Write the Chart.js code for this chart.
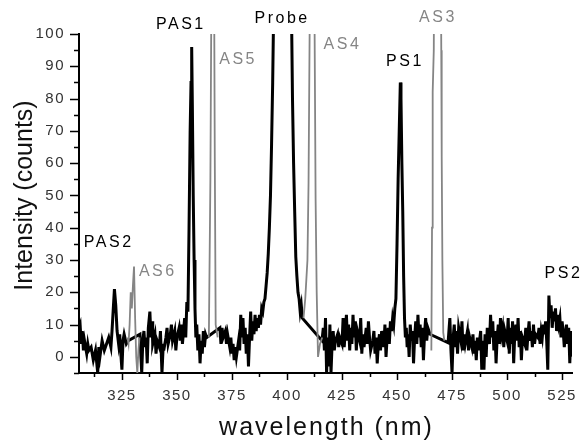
<!DOCTYPE html>
<html>
<head>
<meta charset="utf-8">
<script src="https://cdn.jsdelivr.net/npm/chart.js@4.4.1/dist/chart.umd.min.js"></script>
<style>
html, body { margin: 0; padding: 0; background: #fff; }
#wrap { width: 584px; height: 444px; position: relative; }
</style>
</head>
<body>
<div id="wrap"><canvas id="myChart"></canvas></div>
<script>
// Black spectrum (filtered regions bridged by straight segments)
const blackNm = [
    305.5, 306, 306.5, 307, 307.5, 308, 309, 309.5, 310, 311,
    312, 313, 314, 314.5, 315, 316, 317, 318, 319, 320,
    320.5, 321, 321.6, 322.2, 322.8, 323.5, 324, 324.5, 325, 325.5,
    326, 327, 327.9, 333.2, 333.5, 334, 334.5, 335, 335.5, 336,
    336.5, 337, 337.7, 338.2, 338.7, 339, 340, 340.5, 341, 342,
    342.5, 343.2, 343.8, 344, 345, 345.5, 346, 347, 347.5, 348,
    349, 349.5, 350, 351, 351.5, 352, 352.5, 353, 353.5, 354,
    354.5, 355, 355.5, 356, 356.4, 356.7, 357, 357.4, 357.8, 358.2,
    358.6, 359, 359.5, 360, 360.5, 361, 361.5, 362, 362.5, 363,
    363.5, 369.5, 370, 370.5, 371, 372, 372.5, 373, 374, 374.5,
    375, 375.5, 376, 376.5, 377, 378, 378.5, 379, 379.5, 380,
    380.5, 381, 381.5, 382, 382.5, 383, 383.5, 384, 384.5, 385,
    385.5, 386, 386.5, 387, 387.5, 388, 388.5, 389, 389.5, 390,
    390.5, 391, 391.5, 392, 392.5, 393, 393.5, 394, 396, 400,
    402, 402.5, 403, 403.5, 404, 404.5, 405, 405.5, 406, 406.5,
    407, 415.9, 416.5, 417, 417.5, 418, 418.5, 419, 419.5, 420,
    420.5, 421, 421.5, 422, 423, 423.5, 424, 425, 425.5, 426,
    426.5, 427, 427.5, 428, 428.5, 429, 429.5, 430, 430.5, 431,
    431.5, 432, 433, 433.5, 434, 434.5, 435, 436, 436.5, 437,
    437.5, 438, 439, 439.5, 440, 440.5, 441, 441.5, 442, 442.5,
    443, 444, 444.5, 445, 445.5, 446, 446.5, 447, 447.5, 448,
    448.5, 449, 449.5, 450, 450.5, 451, 451.5, 451.8, 452.2, 452.6,
    453, 453.4, 453.8, 454.2, 454.6, 455, 455.5, 456, 456.5, 457,
    457.5, 458, 458.5, 459, 459.5, 460, 460.5, 461, 461.5, 462,
    462.5, 463, 463.5, 464, 465, 473.2, 474, 474.5, 475, 475.5,
    476, 476.5, 477, 477.5, 478, 479, 479.5, 480, 480.5, 481,
    482, 482.5, 483, 484, 484.5, 485, 485.5, 486, 486.5, 487,
    488, 488.5, 489, 489.5, 490, 490.5, 491, 492, 492.5, 493,
    493.5, 494, 494.5, 495, 495.5, 496, 496.5, 497, 497.5, 498,
    498.5, 499, 500, 500.5, 501, 501.5, 502, 502.5, 503, 503.5,
    504, 504.5, 505, 505.5, 506, 506.5, 507, 508, 508.5, 509,
    509.5, 510, 510.5, 511, 511.5, 512, 512.5, 513, 514, 514.5,
    515, 515.5, 516, 516.5, 517, 517.5, 518, 518.5, 519, 519.5,
    520, 520.5, 521, 521.5, 522, 522.5, 523, 523.5, 524, 524.5,
    525, 525.5, 526, 526.5, 527, 527.5, 528, 528.5, 529, 529.5
];
const blackCounts = [
    9, 10, 4, 8, 2, 5, 1, 4, 2, 3,
    -1, 2, -5, 3, 0, 5, 2, 4, 6, 3,
    8, 14, 21, 16, 8, 4, 7, 1, -4, 5,
    7, 4, 5, 7, 2, -5, 5, 8, 3, 6,
    -2, 9, 14, 6, 11, 4, 7, 1, 5, 3,
    8, -5, 4, 2, 6, 9, 4, 7, 10, 5,
    8, 2, 6, 9, 5, 10, 4, 8, 12, 6,
    17, 14, 40, 70, 85, 96, 78, 50, 30, 15,
    6, 10, 2, 7, -2, 5, 1, 8, 3, 7,
    6, 9, 4, 9, 6, 8, 4, 7, 3, 6,
    1, 4, -1, 3, 0, 5, 2, 13, 6, 12,
    4, 9, 1, 7, -3, 6, 14, 5, 11, 7,
    13, 8, 12, 9, 13, 10, 15, 14, 17, 18,
    22, 26, 32, 40, 50, 66, 85, 110, 160, 160,
    110, 80, 60, 45, 31, 25, 20, 18, 14, 16,
    12, 5, 9, 2, 12, -5, 6, -3, 10, -5,
    4, 8, 2, 5, 7, 3, 6, 4, 12, 3,
    8, 13, 5, 10, 2, 9, 4, 13, 6, 11,
    2, 8, 5, 12, 1, 7, 3, 9, 4, 11,
    6, 2, 5, 8, 1, 6, -2, 4, 7, 2,
    8, 3, 10, 0, 6, 9, 4, 11, 8, 12,
    10, 15, 18, 35, 55, 70, 85, 80, 60, 45,
    25, 12, 6, 9, 3, 7, 0, 10, 5, 8,
    -2, 6, 11, 4, 13, 6, 10, 3, 9, -1,
    7, 12, 5, 9, 7, 4.4, 12, 2, -5, 6,
    10, 3, 8, 1, 9, 5, 11, 2, 7, 4,
    8, 2, 6, 3, 7, 1, 5, -1, 6, 2,
    8, -4, 5, -4, 7, 0, 9, 4, 13, 6,
    11, 2, 8, -2, 6, 10, 4, 12, 7, 9,
    3, 8, 5, 12, 1, 9, 4, 11, -2, 7,
    10, 5, 12, 3, 8, -1, 6, 4, 9, 2,
    7, 11, 5, 8, 3, 10, 4, 7, 6, 9,
    4, 8, 6, 10, 7, 11, 5, -4, 19, 12,
    16, 9, 14, 11, 15, 8, 13, 10, 12, 6,
    11, 8, 3, 7, 10, 4, 9, -2, 8, 0
];

// Grey anti-Stokes lines (AS6, AS5, AS4, AS3), null separates the windows
const greyNm = [
    327.5, 328, 328.5, 329, 329.5, 330, 330.5, 331, 331.5, 332, 332.5, 333, 333.1,
    364.5, 365.2, 365.8, 366.8, 367.2, 367.6, 368.5, 368.6,
    407.5, 408.3, 409.3, 409.8, 410.6, 412.3, 413, 413.5, 414.1, 415, 416, 416.1,
    465.6, 465.9, 466.2, 466.7, 466.9, 469.9, 470.1, 470.3, 470.6, 471, 471.5
];
const greyCounts = [
    6, 4, 10, 20, 15, 22, 28, 12, 0, -5, 2, 6, null,
    6, 55, 130, 130, 61, 10, 6, null,
    12, 18, 30, 54, 130, 130, 49, 20, 0, 4, 6, null,
    2, 40, 82, 95, 130, 130, 95, 62, 30, 7.5, 5
];

// Peak names, anchored in data coordinates
const peakNames = ['PAS2', 'AS6', 'PAS1', 'AS5', 'Probe', 'AS4', 'PS1', 'AS3', 'PS2'];
const peakNameNm = [319, 341.3, 351.8, 377.8, 397.8, 425.2, 453.6, 468.6, 525.6];
const peakNameCounts = [35.3, 26.3, 102.8, 92.2, 104.8, 96.6, 91.3, 105.2, 25.9];
const peakNameGrey = [false, true, false, true, false, true, false, true, false];

const xTitle = 'wavelength (nm)';
const yTitle = 'Intensity (counts)';

const toPoints = (xs, ys) => xs.map((v, i) => ({ x: v, y: ys[i] }));

const decorations = {
    id: 'decorations',
    beforeDraw(chart) {
        chart.ctx.letterSpacing = '1.5px';
    },
    afterDraw(chart) {
        const ctx = chart.ctx;
        const xs = chart.scales.x;
        const ys = chart.scales.y;
        ctx.save();
        ctx.strokeStyle = '#000';
        ctx.lineWidth = 1.5;
        ctx.beginPath();
        ys.ticks.forEach(t => {
            const py = Math.round(ys.getPixelForValue(t.value)) + 0.5;
            const len = t.value % 10 === 0 ? 9 : 5;
            ctx.moveTo(xs.left - len, py);
            ctx.lineTo(xs.left, py);
        });
        xs.ticks.forEach(t => {
            const px = Math.round(xs.getPixelForValue(t.value)) + 0.5;
            const len = t.value % 25 === 0 ? 7 : 4;
            ctx.moveTo(px, ys.bottom);
            ctx.lineTo(px, ys.bottom + len);
        });
        ctx.stroke();

        // peak names
        ctx.letterSpacing = '2.5px';
        ctx.font = '16px "Liberation Sans", Arial, sans-serif';
        ctx.textAlign = 'center';
        ctx.textBaseline = 'middle';
        peakNames.forEach((name, i) => {
            ctx.fillStyle = peakNameGrey[i] ? '#858585' : '#000';
            ctx.fillText(name, xs.getPixelForValue(peakNameNm[i]), ys.getPixelForValue(peakNameCounts[i]));
        });

        // axis titles
        ctx.fillStyle = '#111';
        ctx.font = '25px "Liberation Sans", Arial, sans-serif';
        ctx.letterSpacing = '2px';
        ctx.fillText(xTitle, (xs.left + xs.right) / 2 + 1, 428);
        ctx.letterSpacing = '0px';
        ctx.translate(25, (ys.top + ys.bottom) / 2 - 8);
        ctx.rotate(-Math.PI / 2);
        ctx.fillText(yTitle, 0, 0);
        ctx.restore();
    }
};

const ctx = document.getElementById('myChart').getContext('2d');

const spectrumChart = new Chart(ctx, {
    type: 'line',
    data: {
        datasets: [{
            label: 'anti-Stokes',
            data: toPoints(greyNm, greyCounts),
            borderColor: '#858585',
            borderWidth: 1.8,
            pointRadius: 0,
            spanGaps: false,
            tension: 0
        }, {
            label: 'spectrum',
            data: toPoints(blackNm, blackCounts),
            borderColor: '#000',
            borderWidth: 3,
            pointRadius: 0,
            tension: 0
        }]
    },
    options: {
        responsive: true,
        maintainAspectRatio: false,
        animation: false,
        devicePixelRatio: 1,
        layout: { padding: { top: 34, right: 12, left: 0, bottom: 0 } },
        plugins: {
            legend: { display: false },
            tooltip: { enabled: false }
        },
        scales: {
            x: {
                type: 'linear',
                min: 305.5,
                max: 529.5,
                afterFit: (scale) => { scale.height = 71; },
                afterBuildTicks: (scale) => {
                    scale.ticks = scale.ticks.filter(t => t.value % 12.5 === 0);
                },
                ticks: {
                    stepSize: 12.5,
                    includeBounds: false,
                    autoSkip: false,
                    maxRotation: 0,
                    padding: 7,
                    color: '#333',
                    font: { family: '"Liberation Sans", Arial, sans-serif', size: 15 },
                    callback: (v) => (v % 25 === 0 ? String(v) : '')
                },
                grid: {
                    drawOnChartArea: false,
                    drawTicks: true,
                    tickLength: 7,
                    tickColor: 'rgba(0,0,0,0)'
                },
                border: { display: true, color: '#000', width: 2 }
            },
            y: {
                min: -5,
                max: 100,
                afterFit: (scale) => { scale.width = 79; },
                ticks: {
                    stepSize: 5,
                    autoSkip: false,
                    padding: 5,
                    color: '#333',
                    font: { family: '"Liberation Sans", Arial, sans-serif', size: 15 },
                    callback: (v) => (v % 10 === 0 ? String(v) : '')
                },
                grid: {
                    drawOnChartArea: false,
                    drawTicks: true,
                    tickLength: 9,
                    tickColor: 'rgba(0,0,0,0)'
                },
                border: { display: true, color: '#000', width: 2 }
            }
        }
    },
    plugins: [decorations]
});
</script>
</body>
</html>
